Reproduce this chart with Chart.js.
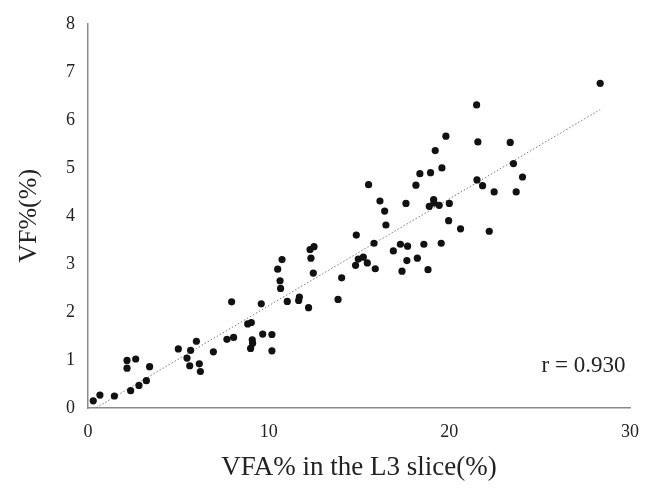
<!DOCTYPE html>
<html lang="en">
<head>
    <meta charset="UTF-8">
    <script src="https://cdn.jsdelivr.net/npm/chart.js"></script>
    <title>VF% vs VFA%</title>
    <style>
        body { margin: 0; background: #fff; }
        #wrap { width: 646px; height: 495px; }
    </style>
</head>
<body>
    <div id="wrap">
        <canvas id="myChart"></canvas>
    </div>
    <script>
        // VFA% in the L3 slice (x) and VF% (y)
        const vfa = [0.29, 0.66, 1.46, 2.36, 2.82, 3.23, 2.16, 2.64, 2.16, 3.41,
            5.0, 5.68, 6.0, 5.48, 5.63, 6.16, 6.22, 6.94, 7.69, 8.06,
            7.95, 9.59, 8.84, 9.04, 9.09, 9.11, 9.0, 9.67, 10.18, 10.18,
            11.03, 11.70, 11.66, 12.21, 10.74, 10.50, 10.63, 10.66, 12.29, 12.51,
            12.34, 12.47, 14.04, 13.84, 14.85, 14.96, 14.81, 15.24, 15.46, 15.90,
            15.83, 15.53, 16.16, 16.42, 16.49, 16.90, 17.29, 17.69, 17.65, 17.38,
            18.23, 18.82, 18.59, 19.55, 17.60, 18.15, 18.37, 18.96, 19.22, 19.59,
            19.81, 18.89, 19.13, 19.15, 19.44, 20.0, 19.96, 20.62, 22.21, 21.58,
            21.53, 21.84, 22.48, 21.51, 23.37, 23.55, 24.05, 23.70, 28.35]
        const vf = [0.15, 0.27, 0.25, 0.36, 0.47, 0.57, 0.99, 1.02, 0.83, 0.86,
            1.23, 1.20, 1.39, 1.04, 0.88, 0.92, 0.76, 1.17, 1.43, 1.47,
            2.21, 2.17, 1.75, 1.78, 1.42, 1.35, 1.24, 1.54, 1.53, 1.19,
            2.22, 2.31, 2.24, 2.09, 3.09, 2.89, 2.65, 2.49, 3.30, 3.36,
            3.12, 2.81, 2.71, 2.26, 3.60, 3.10, 2.97, 3.14, 3.02, 2.90,
            3.43, 4.65, 4.31, 4.10, 3.81, 3.27, 3.41, 3.37, 3.07, 2.85,
            3.12, 2.88, 3.41, 3.43, 4.26, 4.64, 4.88, 4.90, 5.36, 5.00,
            5.66, 4.20, 4.34, 4.27, 4.22, 4.26, 3.90, 3.73, 3.68, 5.54,
            4.75, 4.63, 4.50, 6.31, 5.53, 5.09, 4.81, 4.50, 6.76]
        const xTicks = [0, 10, 20, 30]
        const yTicks = [0, 1, 2, 3, 4, 5, 6, 7, 8]
        const rLabel = "r = 0.930"

        // least squares fit for the dotted trend line
        function fitLine(xs, ys) {
            const n = xs.length
            const mx = xs.reduce((a, b) => a + b, 0) / n
            const my = ys.reduce((a, b) => a + b, 0) / n
            let sxy = 0, sxx = 0
            xs.forEach((x, i) => { sxy += (x - mx) * (ys[i] - my); sxx += (x - mx) * (x - mx) })
            const slope = sxy / sxx
            return { slope, intercept: my - slope * mx }
        }
        const fit = fitLine(vfa, vf)
        const xMin = Math.min(...vfa), xMax = Math.max(...vfa)
        const trend = [xMin, xMax].map(x => ({ x, y: fit.intercept + fit.slope * x }))

        const serif = "'Liberation Serif', 'DejaVu Serif', serif"

        const rText = {
            id: 'rText',
            afterDraw(chart) {
                const { ctx, scales } = chart
                ctx.save()
                ctx.font = "23px " + serif
                ctx.fillStyle = '#222'
                ctx.textAlign = 'right'
                ctx.textBaseline = 'middle'
                ctx.fillText(rLabel, scales.x.getPixelForValue(29.75), scales.y.getPixelForValue(0.87))
                ctx.restore()
            }
        }

        const ctx = document.getElementById('myChart')
        new Chart(ctx, {
            type: 'scatter',
            data: {
                datasets: [{
                    data: vfa.map((x, i) => ({ x, y: vf[i] })),
                    backgroundColor: '#111',
                    borderWidth: 0,
                    pointRadius: 3.6
                }, {
                    type: 'line',
                    data: trend,
                    borderColor: '#777',
                    borderWidth: 1,
                    borderDash: [1.5, 2],
                    pointRadius: 0,
                    fill: false
                }]
            },
            options: {
                responsive: true,
                maintainAspectRatio: false,
                animation: false,
                layout: { padding: { top: 22, right: 16, left: 0, bottom: 0 } },
                plugins: { legend: { display: false }, tooltip: { enabled: false } },
                scales: {
                    x: {
                        type: 'linear', min: 0, max: 30,
                        afterBuildTicks: s => { s.ticks = xTicks.map(v => ({ value: v })) },
                        afterFit: s => { s.height = 87; s.paddingRight = 0; s.paddingLeft = 0 },
                        grid: { display: false, drawTicks: false },
                        border: { display: true, color: '#8a8a8a', width: 1.5 },
                        ticks: { padding: 13, color: '#222', font: { family: serif, size: 18 } },
                        title: {
                            display: true, text: 'VFA% in the L3 slice(%)', color: '#222',
                            font: { family: serif, size: 27 }, padding: { top: 0, bottom: 11 }
                        }
                    },
                    y: {
                        type: 'linear', min: 0, max: 8,
                        afterBuildTicks: s => { s.ticks = yTicks.map(v => ({ value: v })) },
                        afterFit: s => { s.width = 88 },
                        grid: { display: false, drawTicks: false },
                        border: { display: true, color: '#8a8a8a', width: 1.5 },
                        ticks: { padding: 13, color: '#222', font: { family: serif, size: 18 } },
                        title: {
                            display: true, text: 'VF%(%)', color: '#222',
                            font: { family: serif, size: 26 }, padding: { top: 14, bottom: 0 }
                        }
                    }
                }
            },
            plugins: [rText]
        })
    </script>
</body>
</html>
